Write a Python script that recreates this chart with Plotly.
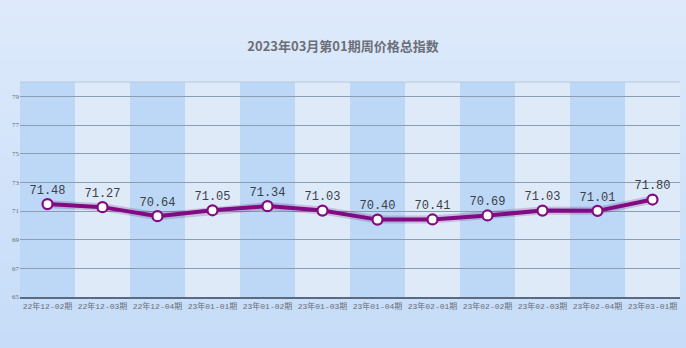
import plotly.graph_objects as go

# Weekly price index, periods and values
periods = ["22年12-02期", "22年12-03期", "22年12-04期", "23年01-01期", "23年01-02期",
           "23年01-03期", "23年01-04期", "23年02-01期", "23年02-02期", "23年02-03期",
           "23年02-04期", "23年03-01期"]
index_values = [71.48, 71.27, 70.64, 71.05, 71.34, 71.03, 70.40, 70.41, 70.69, 71.03, 71.01, 71.80]
y_ticks = [65, 67, 69, 71, 73, 75, 77, 79]

W, H = 686, 348
ML, MR, MT, MB = 20, 6, 82, 51
plot_h = H - MT - MB
plot_w = W - ML - MR

fig = go.Figure()

# soft vertical gradient behind everything
n_strips = 40
top_rgb = (222, 234, 251)
bot_rgb = (198, 220, 248)
y_top = (H - MB) / plot_h
y_bot = -MB / plot_h
x_left = -ML / plot_w
x_right = 1 + MR / plot_w
for k in range(n_strips):
    t = k / (n_strips - 1)
    c = tuple(round(top_rgb[j] + (bot_rgb[j] - top_rgb[j]) * t) for j in range(3))
    y1 = y_top - (y_top - y_bot) * k / n_strips
    y0 = y_top - (y_top - y_bot) * (k + 1) / n_strips
    fig.add_shape(type="rect", xref="paper", yref="paper", x0=x_left, x1=x_right,
                  y0=y0 - 0.002, y1=y1 + 0.002, line_width=0,
                  fillcolor="rgb(%d,%d,%d)" % c, layer="below")

# alternating column bands in the plot area
for i in range(len(periods)):
    fig.add_shape(type="rect", xref="x", yref="paper", x0=i - 0.5, x1=i + 0.5,
                  y0=0, y1=1, line_width=0,
                  fillcolor="#bdd7f7" if i % 2 == 0 else "#dfeaf9", layer="below")

# top border line of plot area
fig.add_shape(type="line", xref="paper", yref="paper", x0=0, x1=1, y0=1, y1=1,
              line=dict(color="#b7c8dc", width=1), layer="below")

# faint shadow under the line
fig.add_trace(go.Scatter(
    x=periods, y=index_values, mode="lines",
    line=dict(color="rgba(80,0,80,0.18)", width=8),
    hoverinfo="skip", showlegend=False,
))

fig.add_trace(go.Scatter(
    x=periods, y=index_values, mode="lines+markers+text",
    line=dict(color="#820a82", width=4),
    marker=dict(size=10, color="white", line=dict(color="#820a82", width=2.2)),
    text=["%.2f" % v for v in index_values],
    textposition="top center",
    textfont=dict(family="Liberation Mono, DejaVu Sans Mono", size=12, color="#3a3f48"),
    cliponaxis=False,
    showlegend=False,
))

fig.update_layout(
    width=W, height=H,
    margin=dict(l=ML, r=MR, t=MT, b=MB),
    paper_bgcolor="#d6e5f9",
    plot_bgcolor="rgba(0,0,0,0)",
    title=dict(text="<b>2023年03月第01期周价格总指数</b>", x=0.5, xanchor="center",
               y=1 - 46 / H, yanchor="middle",
               font=dict(family="Noto Sans CJK SC", size=13, color="#6b6f78")),
    xaxis=dict(type="category", range=[-0.5, len(periods) - 0.5], showgrid=False,
               showline=True, linecolor="#5a6a80", linewidth=2, ticks="",
               tickfont=dict(family="Liberation Mono, Noto Sans CJK SC", size=8, color="#6a6f78"),
               fixedrange=True),
    yaxis=dict(range=[65, 80], tickvals=y_ticks, showgrid=True, gridcolor="#8b9db3",
               gridwidth=1, zeroline=False, showline=False, ticks="",
               tickfont=dict(family="Liberation Serif", size=7, color="#6a6f78"),
               fixedrange=True),
)

fig.write_html("out.html")
